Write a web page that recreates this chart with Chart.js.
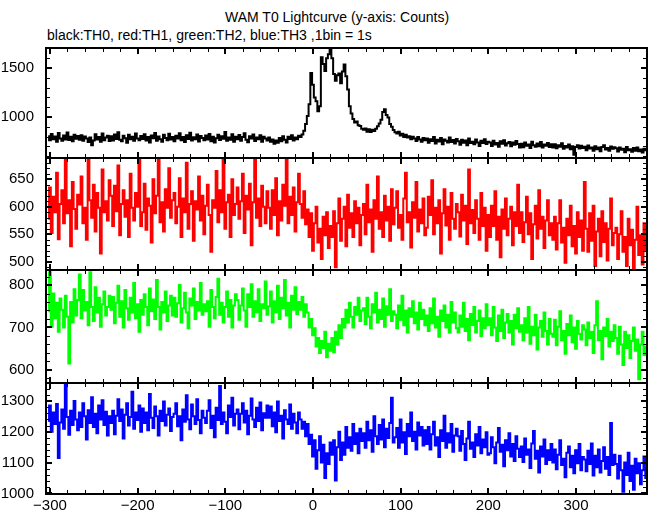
<!DOCTYPE html>
<html>
<head>
<meta charset="UTF-8" />
<title>WAM T0 Lightcurve</title>
<script src="https://cdn.jsdelivr.net/npm/chart.js@4.4.1/dist/chart.umd.min.js"></script>
<style>
  body { margin: 0; background: #fff; }
  #wrap { position: relative; width: 652px; height: 515px; overflow: hidden; font-family: "Liberation Sans", Arial, sans-serif; }
  #wrap canvas { position: absolute; left: 0; }
  .txt { position: absolute; font-size: 14px; color: #000; white-space: nowrap; line-height: 16px; }
</style>
</head>
<body>
<div id="wrap">
  <div class="txt" style="left:225px; top:9px;">WAM T0 Lightcurve (y-axis: Counts)</div>
  <div class="txt" style="left:47px; top:27px;">black:TH0, red:TH1, green:TH2, blue:TH3 ,1bin = 1s</div>
  <canvas id="p0" width="652" height="160" style="top:23px"></canvas>
  <canvas id="p1" width="652" height="162" style="top:133px"></canvas>
  <canvas id="p2" width="652" height="163" style="top:245px"></canvas>
  <canvas id="p3" width="652" height="157" style="top:358px"></canvas>
</div>
<script>
// time of first bin (s) and bin width used when reading the curves off the picture
const timeStart = -302;
const binWidth = 2;

const th0 = [
  805, 762, 828, 774, 801, 748, 836, 781, 759, 812, 770, 842, 765, 798, 752, 820, 779, 807,
  768, 815, 757, 802, 780, 745, 790, 712, 760, 825, 771, 796, 748, 831, 763, 790, 810, 755,
  803, 761, 822, 776, 845, 769, 752, 810, 784, 738, 818, 772, 799, 757, 833, 780, 764, 806,
  776, 824, 760, 795, 741, 812, 783, 836, 758, 801, 773, 749, 818, 787, 762, 829, 770, 797,
  752, 808, 781, 834, 764, 796, 745, 815, 777, 840, 760, 793, 772, 821, 750, 806, 786, 763,
  811, 770, 827, 754, 798, 741, 784, 819, 766, 803, 778, 846, 757, 790, 768, 825, 747, 800,
  774, 816, 759, 797, 835, 768, 742, 805, 781, 822, 756, 790, 772, 814, 748, 799, 780, 761,
  792, 748, 771, 727, 760, 738, 785, 752, 803, 769, 741, 798, 776, 815, 760, 790, 772, 808,
  795, 822, 860, 930, 1010, 1130, 1450, 1330, 1200, 1160, 1060, 1110, 1610, 1540, 1470, 1600, 1640, 1720,
  1600, 1440, 1370, 1425, 1445, 1345, 1465, 1535, 1415, 1280, 1110, 1035, 980, 945, 955, 915, 908, 880,
  870, 882, 850, 876, 848, 870, 858, 880, 905, 935, 972, 1050, 1080, 1020, 995, 930, 900, 868,
  845, 832, 850, 812, 830, 795, 818, 790, 805, 772, 798, 782, 756, 795, 770, 748, 785, 762,
  780, 738, 772, 755, 795, 731, 768, 750, 785, 722, 771, 758, 740, 790, 745, 766, 729, 775,
  752, 718, 769, 738, 760, 712, 781, 735, 748, 722, 770, 741, 705, 758, 734, 772, 726, 749,
  741, 705, 758, 720, 736, 698, 752, 728, 763, 710, 733, 745, 702, 739, 718, 756, 724, 690,
  728, 692, 739, 708, 720, 685, 748, 712, 697, 730, 703, 744, 688, 719, 706, 735, 694, 722,
  690, 722, 681, 711, 698, 732, 676, 705, 688, 719, 670, 702, 615, 695, 712, 678, 706, 684,
  698, 662, 710, 679, 690, 655, 703, 672, 688, 650, 695, 712, 668, 684, 657, 700, 676, 691,
  682, 648, 690, 665, 676, 640, 695, 660, 672, 645, 683, 655, 690, 650, 668, 638, 676, 660
];

const th1 = [
  578, 635, 552, 618, 590, 662, 541, 605, 630, 570, 695, 588, 612, 528, 645, 596, 560, 622,
  604, 655, 570, 598, 540, 690, 612, 580, 640, 555, 625, 598, 515, 668, 590, 610, 575, 648,
  620, 565, 638, 592, 675, 548, 605, 630, 582, 612, 545, 660, 598, 575, 625, 600, 690, 565,
  590, 642, 558, 615, 602, 535, 650, 588, 620, 695, 572, 608, 555, 632, 598, 670, 580, 612,
  625, 570, 600, 652, 545, 615, 590, 680, 560, 605, 628, 538, 610, 595, 655, 575, 620, 550,
  602, 640, 585, 518, 612, 598, 665, 572, 630, 590, 695, 560, 608, 622, 545, 650, 585, 605,
  635, 578, 610, 660, 552, 620, 595, 642, 530, 608, 685, 580, 615, 565, 638, 600, 570, 628,
  598, 560, 630, 585, 652, 548, 610, 575, 640, 602, 690, 570, 618, 585, 635, 555, 608, 660,
  605, 580, 628, 568, 595, 545, 588, 520, 570, 600, 535, 560, 505, 582, 548, 590, 525, 565,
  545, 592, 490, 570, 615, 538, 578, 600, 528, 622, 562, 588, 545, 610, 570, 598, 530, 585,
  605, 550, 640, 572, 595, 518, 612, 578, 655, 560, 590, 545, 620, 575, 600, 538, 632, 568,
  598, 628, 562, 585, 540, 615, 662, 572, 590, 526, 608, 580, 645, 555, 595, 570, 615, 548,
  562, 618, 585, 648, 550, 598, 570, 612, 515, 588, 632, 566, 600, 540, 625, 578, 560, 605,
  590, 546, 622, 575, 602, 532, 668, 570, 594, 552, 612, 578, 540, 625, 565, 598, 520, 585,
  545, 602, 565, 628, 540, 582, 508, 595, 560, 615, 548, 578, 600, 530, 590, 565, 640, 552,
  590, 536, 572, 618, 550, 588, 505, 568, 602, 542, 630, 560, 582, 525, 575, 612, 548, 570,
  540, 582, 522, 570, 612, 535, 562, 498, 578, 548, 602, 528, 565, 515, 590, 545, 575, 520,
  645, 560, 518, 588, 538, 602, 492, 555, 578, 510, 592, 536, 570, 502, 560, 615, 530, 552,
  562, 505, 550, 592, 518, 545, 492, 578, 530, 558, 488, 540, 600, 512, 548, 495, 570, 520
];

const th2 = [
  738, 830, 702, 780, 722, 758, 690, 768, 742, 700, 775, 725, 615, 760, 712, 790, 728, 765,
  825, 722, 788, 740, 760, 705, 830, 748, 715, 795, 735, 770, 702, 755, 785, 728, 748, 775,
  742, 772, 710, 758, 798, 725, 762, 700, 788, 745, 718, 770, 735, 805, 722, 755, 690, 765,
  730, 778, 748, 705, 792, 738, 766, 720, 812, 748, 695, 760, 735, 785, 715, 752, 775, 728,
  770, 725, 757, 800, 712, 745, 782, 735, 698, 768, 752, 792, 720, 760, 740, 805, 730, 755,
  738, 762, 702, 788, 748, 722, 772, 815, 730, 758, 712, 748, 785, 725, 765, 700, 752, 778,
  765, 718, 752, 792, 740, 702, 778, 748, 802, 725, 762, 736, 790, 715, 755, 745, 808, 730,
  750, 785, 712, 762, 736, 798, 720, 770, 745, 812, 728, 758, 700, 775, 742, 795, 732, 760,
  742, 772, 725, 755, 735, 700, 720, 682, 698, 655, 675, 640, 668, 652, 690, 630, 662, 645,
  675, 642, 690, 660, 705, 675, 720, 700, 742, 712, 758, 725, 700, 748, 730, 770, 715, 740,
  745, 708, 770, 725, 698, 755, 735, 782, 712, 742, 720, 768, 702, 750, 730, 790, 715, 738,
  730, 698, 752, 718, 775, 705, 740, 688, 745, 725, 762, 710, 735, 695, 758, 720, 742, 705,
  728, 692, 745, 710, 768, 700, 725, 678, 740, 715, 752, 700, 730, 688, 760, 712, 735, 698,
  688, 728, 702, 758, 692, 720, 670, 732, 706, 748, 688, 715, 740, 680, 722, 698, 755, 705,
  722, 682, 748, 700, 668, 728, 692, 742, 675, 712, 732, 688, 715, 660, 730, 698, 745, 690,
  705, 670, 722, 688, 748, 662, 702, 682, 730, 648, 700, 715, 678, 735, 692, 660, 720, 685,
  678, 718, 658, 702, 738, 670, 692, 638, 708, 682, 728, 665, 700, 650, 715, 685, 672, 705,
  695, 658, 712, 675, 690, 640, 705, 762, 670, 692, 625, 700, 680, 720, 655, 690, 668, 705,
  675, 638, 702, 660, 612, 690, 652, 682, 628, 668, 700, 645, 672, 578, 660, 690, 635, 655
];

const th3 = [
  1235, 1285, 1200, 1262, 1225, 1290, 1115, 1230, 1272, 1210, 1355, 1248, 1190, 1268, 1222, 1300, 1240, 1205,
  1262, 1215, 1292, 1250, 1175, 1270, 1228, 1312, 1215, 1258, 1195, 1285, 1240, 1302, 1222, 1265, 1188, 1250,
  1228, 1268, 1192, 1252, 1305, 1235, 1272, 1178, 1255, 1292, 1220, 1248, 1330, 1210, 1262, 1238, 1285, 1200,
  1275, 1228, 1262, 1205, 1322, 1245, 1212, 1282, 1250, 1188, 1268, 1235, 1298, 1220, 1255, 1275, 1202, 1248,
  1258, 1292, 1218, 1250, 1172, 1272, 1232, 1318, 1240, 1208, 1288, 1250, 1225, 1305, 1238, 1195, 1268, 1245,
  1228, 1268, 1302, 1212, 1252, 1182, 1278, 1238, 1348, 1225, 1262, 1232, 1195, 1285, 1248, 1310, 1220, 1258,
  1272, 1208, 1258, 1292, 1230, 1268, 1192, 1252, 1308, 1240, 1215, 1278, 1235, 1295, 1205, 1260, 1245, 1285,
  1245, 1282, 1218, 1262, 1198, 1298, 1235, 1252, 1178, 1270, 1240, 1225, 1288, 1210, 1258, 1230, 1195, 1262,
  1240, 1210, 1232, 1185, 1225, 1160, 1190, 1120, 1172, 1080, 1140, 1185, 1100, 1158, 1050, 1130, 1095, 1165,
  1125, 1172, 1042, 1150, 1200, 1108, 1165, 1125, 1215, 1148, 1182, 1138, 1225, 1160, 1195, 1130, 1210, 1170,
  1195, 1148, 1232, 1172, 1205, 1135, 1250, 1185, 1160, 1222, 1175, 1240, 1150, 1210, 1180, 1228, 1310, 1165,
  1182, 1212, 1148, 1240, 1165, 1198, 1128, 1225, 1185, 1262, 1170, 1200, 1142, 1230, 1188, 1215, 1155, 1205,
  1160, 1215, 1142, 1192, 1232, 1155, 1182, 1118, 1205, 1170, 1252, 1148, 1195, 1165, 1225, 1135, 1188, 1210,
  1185, 1138, 1202, 1160, 1108, 1178, 1232, 1145, 1165, 1118, 1192, 1155, 1215, 1130, 1175, 1150, 1198, 1125,
  1130, 1182, 1150, 1098, 1165, 1212, 1135, 1158, 1088, 1172, 1140, 1195, 1120, 1160, 1105, 1185, 1145, 1118,
  1152, 1102, 1178, 1125, 1142, 1082, 1162, 1202, 1112, 1138, 1068, 1152, 1120, 1175, 1095, 1140, 1108, 1160,
  1100, 1142, 1078, 1125, 1172, 1092, 1112, 1052, 1132, 1152, 1085, 1122, 1065, 1140, 1098, 1160, 1075, 1118,
  1110, 1072, 1138, 1095, 1162, 1058, 1122, 1085, 1142, 1068, 1105, 1150, 1080, 1118, 1060, 1228, 1092, 1125,
  1095, 1048, 1122, 1075, 1005, 1100, 1060, 1132, 1040, 1090, 1012, 1112, 1065, 1098, 1030, 1075, 1120, 1050
];

const xTickLabels = [-300, -200, -100, 0, 100, 200, 300];
const yTicks0 = [1000, 1500];
const yTicks1 = [500, 550, 600, 650];
const yTicks2 = [600, 700, 800];
const yTicks3 = [1000, 1100, 1200, 1300];

const xRange = { min: -304.5, max: 381 };

const panels = [
  { id: "p0", data: th0, color: "#000000", min: 582, max: 1704, ticks: yTicks0, minor: 100, showX: false },
  { id: "p1", data: th1, color: "#ff0000", min: 484.9, max: 688.7, ticks: yTicks1, minor: 10, showX: false },
  { id: "p2", data: th2, color: "#00ff00", min: 569.4, max: 835.3, ticks: yTicks2, minor: 20, showX: false },
  { id: "p3", data: th3, color: "#0000ff", min: 998, max: 1358, ticks: yTicks3, minor: 20, showX: true },
];

function formatTick(v) {
  return v < 0 ? "\u2212" + Math.abs(v) : String(v);
}

// frame around each panel plus inward ticks on all four sides
const frameTicks = {
  id: "frameTicks",
  afterDatasetsDraw(chart, args, opts) {
    const { ctx, chartArea: a, scales } = chart;
    ctx.save();
    ctx.strokeStyle = "#000";

    function tick(x1, y1, x2, y2, w) {
      ctx.lineWidth = w;
      ctx.beginPath();
      ctx.moveTo(x1, y1);
      ctx.lineTo(x2, y2);
      ctx.stroke();
    }

    for (let v = -300; v <= xRange.max; v += 20) {
      const px = Math.round(scales.x.getPixelForValue(v));
      const major = v % 100 === 0;
      const len = major ? 6 : 4;
      const w = major ? 2 : 1;
      const off = w === 1 ? 0.5 : 0;
      tick(px + off, a.top, px + off, a.top + len, w);
      tick(px + off, a.bottom, px + off, a.bottom - len, w);
    }

    const start = Math.ceil(opts.min / opts.minor) * opts.minor;
    for (let v = start; v <= opts.max; v += opts.minor) {
      const py = Math.round(scales.y.getPixelForValue(v));
      const major = opts.ticks.includes(v);
      const len = major ? 6 : 4;
      const w = major ? 2 : 1;
      const off = w === 1 ? 0.5 : 0;
      tick(a.left, py + off, a.left + len, py + off, w);
      tick(a.right, py + off, a.right - len, py + off, w);
    }

    ctx.lineWidth = 2;
    ctx.strokeRect(a.left, a.top, a.right - a.left, a.bottom - a.top);
    ctx.restore();
  },
};

const tickFont = { family: "'Liberation Sans', Arial, sans-serif", size: 15 };

panels.forEach((p) => {
  const points = p.data.map((y, i) => ({ x: timeStart + i * binWidth, y }));
  new Chart(document.getElementById(p.id), {
    type: "line",
    data: {
      datasets: [
        {
          data: points,
          borderColor: p.color,
          borderWidth: 2,
          pointRadius: 0,
          stepped: "middle",
          fill: false,
        },
      ],
    },
    options: {
      responsive: false,
      animation: false,
      devicePixelRatio: 1,
      layout: { padding: { left: 0, right: 5, top: 25, bottom: p.showX ? 0 : 25 } },
      plugins: {
        legend: { display: false },
        tooltip: { enabled: false },
        frameTicks: { min: p.min, max: p.max, minor: p.minor, ticks: p.ticks },
      },
      scales: {
        x: {
          type: "linear",
          min: xRange.min,
          max: xRange.max,
          display: p.showX,
          grid: { display: false, drawTicks: false },
          border: { display: false },
          ticks: {
            color: "#000",
            font: tickFont,
            padding: 3,
            maxRotation: 0,
            callback: (v) => formatTick(v),
          },
          afterBuildTicks(scale) {
            scale.ticks = xTickLabels.map((v) => ({ value: v }));
          },
          afterFit(scale) {
            if (p.showX) scale.height = 21;
          },
        },
        y: {
          min: p.min,
          max: p.max,
          grid: { display: false, drawTicks: false },
          border: { display: false },
          ticks: {
            color: "#000",
            font: tickFont,
            padding: 12,
            callback: (v) => String(v),
          },
          afterBuildTicks(scale) {
            scale.ticks = p.ticks.map((v) => ({ value: v }));
          },
          afterFit(scale) {
            scale.width = 46;
          },
        },
      },
    },
    plugins: [frameTicks],
  });
});
</script>
</body>
</html>
